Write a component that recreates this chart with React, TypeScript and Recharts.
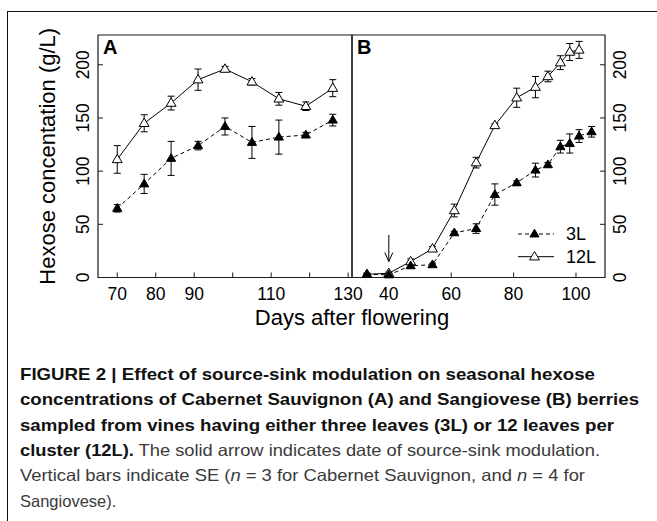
import { LineChart, Line, XAxis, YAxis, ErrorBar, ReferenceArea, ReferenceLine, Legend } from 'recharts'

const FONT = '"Liberation Sans", Arial, Helvetica, sans-serif'
const INK = '#1a1a1a'

// panel A - Cabernet Sauvignon
const A_DAYS = [70, 77, 84, 91, 98, 105, 112, 119, 126]
const A_3L = [65, 88, 112, 124, 142, 127, 132, 134, 148]
const A_3L_SE = [3.5, 9, 16, 4, 8, 15, 16, 2.5, 5.5]
const A_12L = [111, 145, 164, 186, 196, 184, 168, 161, 178]
const A_12L_SE = [13, 8, 6.5, 10, 2.5, 3, 6, 4, 8]
const A_X_TICKS = [70, 80, 90, 100, 110, 120, 130]
const A_X_LABELS = ['70', '80', '90', '', '110', '', '130']
const A_X_DOMAIN = [65, 131]

// panel B - Sangiovese
const B_DAYS = [33, 40, 47, 54, 61, 68, 74, 81, 87, 91, 95, 98, 101, 105]
const B_3L = [3, 2.5, 11, 12, 42, 46, 78, 89, 101, 106, 123, 126, 133, 137]
const B_3L_SE = [1, 1, 2, 1.5, 1.5, 4.5, 10, 2, 6.5, 2, 6, 9, 6, 5]
const B_12L = [3, 4, 15, 27, 63, 108, 143, 169, 179, 189, 202, 212, 214, null]
const B_12L_SE = [1, 1, 2.5, 2, 6, 5, 1.5, 9, 10, 5, 6.5, 8, 8, null]
const B_X_TICKS = [40, 60, 80, 100]
const B_X_DOMAIN = [28.2, 109.3]

const Y_TICKS = [0, 50, 100, 150, 200]
const Y_DOMAIN = [0, 228]

// solid arrow: date of source-sink modulation
const ARROW_DAY = 40
const ARROW_FROM = 40
const ARROW_TO = 15

const Y_TITLE = 'Hexose concentation (g/L)'
const X_TITLE = 'Days after flowering'

const aRows = A_DAYS.map((day, i) => ({
  day, l3: A_3L[i], l3se: A_3L_SE[i], l12: A_12L[i], l12se: A_12L_SE[i],
}))
const bRows = B_DAYS.map((day, i) => ({
  day, l3: B_3L[i], l3se: B_3L_SE[i], l12: B_12L[i], l12se: B_12L_SE[i],
}))

const SERIES = [
  { key: 'l12', se: 'l12se', name: '12L', dash: undefined, filled: false },
  { key: 'l3', se: 'l3se', name: '3L', dash: '4 3', filled: true },
]
const LEGEND_ORDER = ['3L', '12L']

function triPoints(cx: number, cy: number, r: number) {
  const hw = r * 0.95
  return `${cx},${cy - r} ${cx - hw},${cy + r * 0.62} ${cx + hw},${cy + r * 0.62}`
}

function Triangle({ cx, cy, filled }: any) {
  if (cx == null || cy == null) return null
  return (
    <polygon
      key={`${cx}-${cy}`}
      points={triPoints(cx, cy, filled ? 4.8 : 5.2)}
      fill={filled ? '#000' : '#fff'}
      stroke="#000"
      strokeWidth={1}
    />
  )
}

function BottomTick({ x, y, payload, ticks, labels }: any) {
  const i = ticks.indexOf(payload.value)
  const label = labels ? labels[i] : String(payload.value)
  return (
    <g>
      <line x1={x} y1={y} x2={x} y2={y - 5} stroke={INK} strokeWidth={1} />
      <text x={x} y={y + 22} textAnchor="middle" fontSize={17.5} fontFamily={FONT} fill="#000">
        {label}
      </text>
    </g>
  )
}

function SideTick({ x, y, payload, side }: any) {
  const inward = side === 'left' ? 5 : -5
  const base = side === 'left' ? x - 9 : x + 20.5
  return (
    <g>
      <line x1={x} y1={y} x2={x + inward} y2={y} stroke={INK} strokeWidth={1} />
      <text
        transform={`translate(${base},${y}) rotate(-90)`}
        textAnchor="middle"
        fontSize={17.5}
        fontFamily={FONT}
        fill="#000"
      >
        {payload.value}
      </text>
    </g>
  )
}

function YTitle({ viewBox }: any) {
  const vb = viewBox ?? { x: 58, y: 35, width: 40, height: 242.5 }
  return (
    <text
      transform={`translate(${vb.x - 3.3},${vb.y + vb.height / 2}) rotate(-90)`}
      textAnchor="middle"
      fontSize={22}
      fontFamily={FONT}
      fill="#000"
    >
      {Y_TITLE}
    </text>
  )
}

function XTitle({ viewBox }: any) {
  const vb = viewBox ?? { x: 98, y: 277.5, width: 254, height: 30 }
  return (
    <text x={vb.x + vb.width} y={vb.y + 47.5} textAnchor="middle" fontSize={22} fontFamily={FONT} fill="#000">
      {X_TITLE}
    </text>
  )
}

function PanelLetter({ viewBox, letter }: any) {
  const vb = viewBox ?? { x: 0, y: 0 }
  return (
    <text x={vb.x + 5} y={vb.y + 19} fontSize={20} fontWeight="bold" fontFamily={FONT} fill="#000">
      {letter}
    </text>
  )
}

function Arrow({ x1, y1, x2, y2 }: any) {
  return (
    <g stroke="#000" strokeWidth={1} fill="none">
      <line x1={x1} y1={y1} x2={x2} y2={y2} />
      <polyline points={`${x2 - 4},${y2 - 9} ${x2},${y2} ${x2 + 4},${y2 - 9}`} />
    </g>
  )
}

function LegendBox() {
  return (
    <svg width={110} height={50} style={{ display: 'block' }}>
      {LEGEND_ORDER.map((name, i) => {
        const s = SERIES.find(d => d.name === name)!
        const cy = 12 + i * 22.7
        return (
          <g key={name}>
            <line x1={8} y1={cy} x2={44} y2={cy} stroke="#000" strokeWidth={1} strokeDasharray={s.dash} />
            <polygon
              points={triPoints(24.5, cy, s.filled ? 4.8 : 5.2)}
              fill={s.filled ? '#000' : '#fff'}
              stroke="#000"
              strokeWidth={1}
            />
            <text x={56} y={cy + 6.4} fontSize={18} fontFamily={FONT} fill="#000">{name}</text>
          </g>
        )
      })}
    </svg>
  )
}

function seriesLines() {
  return SERIES.map(s => (
    <Line
      key={s.key}
      type="linear"
      dataKey={s.key}
      stroke="#000"
      strokeWidth={1}
      strokeDasharray={s.dash}
      dot={(p: any) => <Triangle key={`${s.key}-${p.index}`} cx={p.cx} cy={p.cy} filled={s.filled} />}
      activeDot={false}
      isAnimationActive={false}
    >
      <ErrorBar dataKey={s.se} direction="y" width={3.5} stroke="#000" strokeWidth={1} isAnimationActive={false} />
    </Line>
  ))
}

const CAPTION = [
  { bold: 'FIGURE 2 | Effect of source-sink modulation on seasonal hexose', width: 575 },
  { bold: 'concentrations of Cabernet Sauvignon (A) and Sangiovese (B) berries', width: 619 },
  { bold: 'sampled from vines having either three leaves (3L) or 12 leaves per', width: 594 },
  { bold: 'cluster (12L).', rest: ' The solid arrow indicates date of source-sink modulation.', width: 580 },
]

export default function App() {
  return (
    <div style={{ position: 'absolute', left: 0, top: 0, width: 657, height: 521, overflow: 'hidden', background: '#fff' }}>
      <div
        style={{
          position: 'absolute', left: 7, top: 11, width: 650, height: 510,
          borderTop: '1.5px solid #111', borderLeft: '1.5px solid #111', boxSizing: 'border-box',
        }}
      />
      <div style={{ position: 'absolute', left: 0, top: 0 }}>
        <LineChart width={657} height={521} data={aRows} margin={{ top: 35, right: 305, bottom: 213.5, left: 58 }}>
          <XAxis
            dataKey="day"
            type="number"
            domain={A_X_DOMAIN}
            ticks={A_X_TICKS}
            interval={0}
            height={30}
            axisLine={false}
            tickLine={false}
            tickSize={0}
            tickMargin={0}
            tick={(p: any) => <BottomTick {...p} ticks={A_X_TICKS} labels={A_X_LABELS} />}
            label={<XTitle />}
          />
          <YAxis
            type="number"
            domain={Y_DOMAIN}
            ticks={Y_TICKS}
            interval={0}
            width={40}
            axisLine={false}
            tickLine={false}
            tickSize={0}
            tickMargin={0}
            tick={(p: any) => <SideTick {...p} side="left" />}
            label={<YTitle />}
          />
          <ReferenceArea
            x1={A_X_DOMAIN[0]} x2={A_X_DOMAIN[1]} y1={Y_DOMAIN[0]} y2={Y_DOMAIN[1]}
            fill="none" stroke={INK} strokeWidth={1.2} ifOverflow="visible"
            label={<PanelLetter letter="A" />}
          />
          {seriesLines()}
        </LineChart>
      </div>
      <div style={{ position: 'absolute', left: 0, top: 0 }}>
        <LineChart width={657} height={521} data={bRows} margin={{ top: 35, right: 12, bottom: 213.5, left: 352 }}>
          <XAxis
            dataKey="day"
            type="number"
            domain={B_X_DOMAIN}
            ticks={B_X_TICKS}
            interval={0}
            height={30}
            axisLine={false}
            tickLine={false}
            tickSize={0}
            tickMargin={0}
            tick={(p: any) => <BottomTick {...p} ticks={B_X_TICKS} />}
          />
          <YAxis
            orientation="right"
            type="number"
            domain={Y_DOMAIN}
            ticks={Y_TICKS}
            interval={0}
            width={40}
            axisLine={false}
            tickLine={false}
            tickSize={0}
            tickMargin={0}
            tick={(p: any) => <SideTick {...p} side="right" />}
          />
          <ReferenceArea
            x1={B_X_DOMAIN[0]} x2={B_X_DOMAIN[1]} y1={Y_DOMAIN[0]} y2={Y_DOMAIN[1]}
            fill="none" stroke={INK} strokeWidth={1.2} ifOverflow="visible"
            label={<PanelLetter letter="B" />}
          />
          <ReferenceLine
            segment={[{ x: ARROW_DAY, y: ARROW_FROM }, { x: ARROW_DAY, y: ARROW_TO }]}
            shape={(p: any) => <Arrow {...p} />}
          />
          {seriesLines()}
          <Legend
            layout="vertical"
            align="center"
            verticalAlign="middle"
            content={() => <LegendBox />}
            wrapperStyle={{ left: 510, top: 222, width: 110, height: 50 }}
          />
        </LineChart>
      </div>
      <svg width={657} height={171} style={{ position: 'absolute', left: 0, top: 350 }}>
        {CAPTION.map((c, i) => (
          <text
            key={i}
            x={20}
            y={30 + i * 25.3}
            fontSize={16.5}
            fontFamily={FONT}
            textLength={c.width}
            lengthAdjust="spacingAndGlyphs"
          >
            <tspan fontWeight="bold" fill="#111">{c.bold}</tspan>
            {c.rest ? <tspan fill="#3a3a3a">{c.rest}</tspan> : null}
          </text>
        ))}
        <text
          x={20}
          y={30 + 4 * 25.3}
          fontSize={16.5}
          fontFamily={FONT}
          fill="#3a3a3a"
          textLength={565}
          lengthAdjust="spacingAndGlyphs"
        >
          Vertical bars indicate SE (<tspan fontStyle="italic">n</tspan> = 3 for Cabernet Sauvignon, and{' '}
          <tspan fontStyle="italic">n</tspan> = 4 for
        </text>
        <text x={20} y={30 + 5 * 25.3} fontSize={16.5} fontFamily={FONT} fill="#3a3a3a">
          Sangiovese).
        </text>
      </svg>
    </div>
  )
}
